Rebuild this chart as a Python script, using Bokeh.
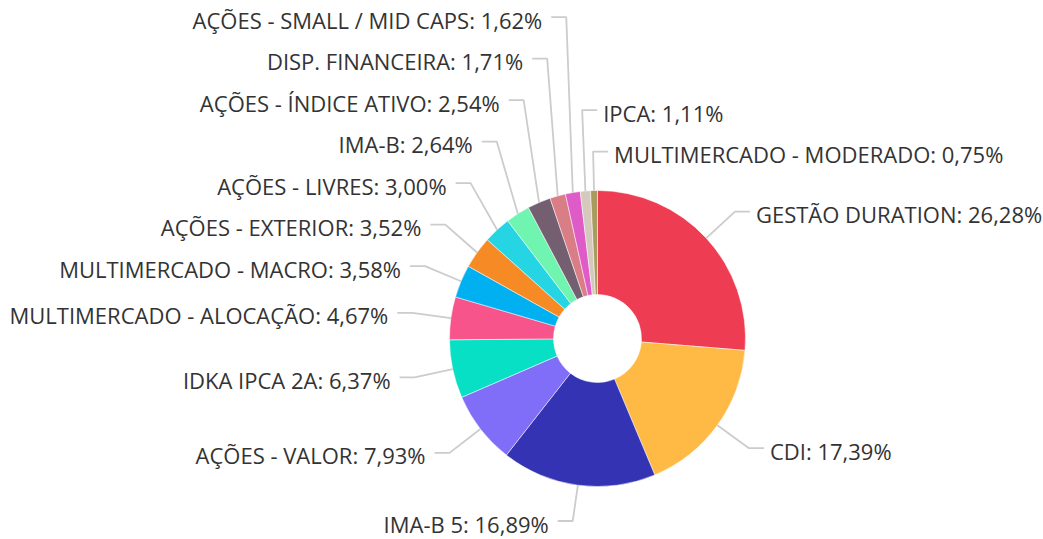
import math
from bokeh.plotting import figure
from bokeh.models import Range1d, ColumnDataSource
from bokeh.embed import file_html
from bokeh.resources import INLINE
from bokeh.core.properties import value

# ---------------- data ----------------
categories = ["GESTÃO DURATION", "CDI", "IMA-B 5", "AÇÕES - VALOR", "IDKA IPCA 2A",
              "MULTIMERCADO - ALOCAÇÃO", "MULTIMERCADO - MACRO", "AÇÕES - EXTERIOR",
              "AÇÕES - LIVRES", "IMA-B", "AÇÕES - ÍNDICE ATIVO", "DISP. FINANCEIRA",
              "AÇÕES - SMALL / MID CAPS", "IPCA", "MULTIMERCADO - MODERADO"]
values = [26.28, 17.39, 16.89, 7.93, 6.37, 4.67, 3.58, 3.52, 3.00, 2.64, 2.54,
          1.71, 1.62, 1.11, 0.75]
colors = ["#EE3D52", "#FFBA45", "#3333B3", "#806EF8", "#08E0C6", "#F7548B",
          "#00B0F0", "#F68B25", "#25D5E4", "#6FF5AF", "#735F70", "#D97E86",
          "#DF5BC7", "#D5C9BD", "#A99A5E"]

# ---------------- layout ----------------
W, H = 1043, 539
CX, CY = 597.0, 338.0          # centre in screen pixels
R_OUT, R_IN = 148.0, 44.0
LEN1, LEN2 = 39.0, 15.0        # label line segments
GAP = 41.5                      # min vertical label spacing
TXT_GAP_L, TXT_GAP_R = 9.0, 6.0
TXT_DY = 2.5
MAX_LINE_Y = H - 16 - TXT_DY   # keep the lowest label inside the canvas
FONT = "Open Sans"
FSIZE = "22px"


def yd(Y):
    return H - Y


p = figure(width=W, height=H, output_backend="svg", toolbar_location=None,
           x_range=Range1d(0, W), y_range=Range1d(0, H),
           min_border=0, outline_line_color=None,
           x_axis_type=None, y_axis_type=None)
p.grid.visible = False
p.background_fill_color = "white"
p.border_fill_color = "white"

total = sum(values)
starts, ends, mids = [], [], []
acc = 0.0
for v in values:
    a0 = acc / total * 360.0
    acc += v
    a1 = acc / total * 360.0
    starts.append(a0)
    ends.append(a1)
    mids.append((a0 + a1) / 2)

wsrc = ColumnDataSource(dict(
    start=[math.pi / 2 - math.radians(a) for a in starts],
    end=[math.pi / 2 - math.radians(a) for a in ends],
    color=colors,
))
p.annular_wedge(x=CX, y=yd(CY), inner_radius=R_IN, outer_radius=R_OUT,
                start_angle="start", end_angle="end", direction="clock",
                fill_color="color", line_color="white", line_width=0.5, source=wsrc)

# label geometry
items = []
for i, (cat, v, m) in enumerate(zip(categories, values, mids)):
    s, c = math.sin(math.radians(m)), math.cos(math.radians(m))
    right = (m < 180) or (c > 0 and s > -0.1)
    items.append(dict(
        i=i, mid=m, right=right,
        ex=CX + R_OUT * s, ey=CY - R_OUT * c,
        kx=CX + (R_OUT + LEN1) * s, ny=CY - (R_OUT + LEN1) * c,
        text=f"{cat}: " + f"{v:.2f}".replace(".", ",") + "%",
    ))

for side in (True, False):
    grp = [it for it in items if it["right"] == side]
    if side:
        grp.sort(key=lambda it: it["mid"] - 360 if it["mid"] > 180 else it["mid"])
    else:
        grp.sort(key=lambda it: -it["mid"])
    ys = [min(it["ny"], MAX_LINE_Y) for it in grp]
    for k in range(len(grp) - 2, -1, -1):
        ys[k] = min(ys[k], ys[k + 1] - GAP)
    for it, y in zip(grp, ys):
        it["y"] = y

lx, ly = [], []
for it in items:
    d = 1 if it["right"] else -1
    it["endx"] = it["kx"] + d * LEN2
    lx.append([it["ex"], it["kx"], it["endx"]])
    ly.append([yd(it["ey"]), yd(it["y"]), yd(it["y"])])
p.multi_line(xs=lx, ys=ly, line_color="#CCCCCC", line_width=1.8)

for side in (True, False):
    grp = [it for it in items if it["right"] == side]
    d = 1 if side else -1
    gap = TXT_GAP_R if side else TXT_GAP_L
    src = ColumnDataSource(dict(
        x=[it["endx"] + d * gap for it in grp],
        y=[yd(it["y"] + TXT_DY) for it in grp],
        t=[it["text"] for it in grp],
    ))
    p.text(x="x", y="y", text="t", source=src,
           text_align="left" if side else "right", text_baseline="middle",
           text_font=value(FONT), text_font_size=value(FSIZE), text_color="#333333")

open("out.html", "w").write(file_html(p, INLINE))
